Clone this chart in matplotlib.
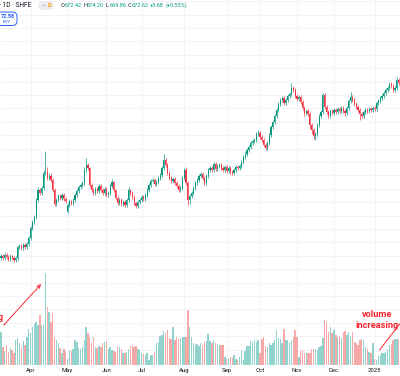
import matplotlib
matplotlib.use("Agg")
import matplotlib.pyplot as plt
from matplotlib.patches import FancyBboxPatch, FancyArrowPatch

plt.rcParams['font.family'] = ['Roboto', 'DejaVu Sans']

# daily bars, mid-March 2024 .. mid-January 2025 (SHFE, 1D)
opens = [
    538.5, 539.8, 538.4, 540.6, 539.1, 537.6, 539.8, 538.4, 536.9, 538.4, 546.6, 547.3,
    545.8, 548.1, 546.6, 548.8, 553.3, 560.7, 565.2, 569.0, 581.6, 589.1, 586.9, 590.6,
    601.8, 602.5, 598.1, 599.6, 596.6, 589.1, 578.7, 581.6, 584.6, 583.1, 585.4, 582.4,
    572.7, 577.9, 580.9, 579.4, 581.6, 585.4, 588.4, 591.3, 592.8, 594.3, 604.0, 607.8,
    605.5, 592.8, 589.1, 586.9, 589.9, 588.4, 592.1, 589.1, 586.9, 589.9, 585.4, 586.9,
    592.1, 595.1, 589.1, 583.1, 579.4, 581.6, 578.7, 580.2, 577.9, 581.6, 589.1, 586.9,
    583.9, 579.4, 577.2, 580.2, 581.6, 583.9, 582.4, 585.4, 589.1, 592.8, 595.8, 596.6,
    593.6, 595.1, 598.1, 600.3, 605.5, 611.5, 607.8, 601.8, 598.1, 595.8, 597.3, 594.3,
    592.1, 589.1, 590.6, 598.1, 604.0, 594.3, 581.6, 584.6, 586.9, 590.6, 594.3, 596.6,
    599.6, 601.0, 598.1, 594.3, 599.6, 604.0, 605.5, 604.0, 608.5, 604.8, 607.0, 607.8,
    605.5, 604.0, 606.3, 603.3, 605.5, 602.5, 601.8, 604.0, 606.3, 605.5, 607.0, 610.0,
    613.7, 616.0, 619.0, 621.2, 624.2, 625.7, 626.4, 630.9, 631.6, 628.7, 626.4, 622.7,
    620.4, 624.2, 630.1, 636.1, 639.9, 644.3, 648.8, 653.3, 656.3, 657.8, 654.0, 656.3,
    659.3, 660.8, 665.2, 663.7, 659.3, 657.0, 658.5, 654.8, 650.3, 646.6, 648.1, 645.8,
    637.6, 633.9, 629.4, 630.9, 637.6, 644.3, 647.3, 660.0, 651.0, 647.3, 644.3, 648.1,
    646.6, 648.8, 647.3, 649.6, 648.1, 650.3, 648.1, 646.6, 650.3, 655.5, 658.5, 656.3,
    653.3, 651.0, 648.8, 645.8, 644.3, 647.3, 648.8, 648.1, 649.6, 648.8, 650.3, 649.6,
    654.0, 655.5, 657.8, 659.3, 661.5, 663.7, 665.2, 668.2, 666.7, 663.7, 665.2, 671.2,
]
highs = [
    541.0, 541.2, 541.8, 541.9, 540.4, 541.0, 540.9, 539.5, 539.6, 548.0, 549.0, 548.5,
    549.6, 549.2, 550.1, 555.0, 562.3, 567.0, 570.8, 583.5, 591.0, 590.8, 592.4, 604.0,
    618.2, 606.0, 602.0, 601.5, 598.0, 590.5, 583.4, 586.2, 586.0, 587.0, 586.8, 583.8,
    579.5, 582.5, 582.0, 583.0, 587.0, 590.0, 593.0, 594.5, 596.0, 606.0, 613.0, 609.5,
    606.5, 594.0, 590.5, 591.5, 591.3, 593.8, 593.5, 590.5, 591.2, 591.0, 588.5, 593.5,
    597.0, 596.0, 590.2, 584.5, 583.0, 583.0, 581.5, 581.6, 583.0, 591.0, 590.2, 588.0,
    585.0, 580.5, 581.5, 583.0, 585.2, 585.0, 586.8, 590.5, 594.4, 597.2, 598.0, 598.0,
    596.6, 599.6, 601.6, 607.0, 616.0, 613.0, 609.0, 603.0, 599.5, 598.8, 598.6, 595.6,
    593.5, 592.0, 599.5, 605.5, 606.0, 595.5, 586.0, 588.2, 592.0, 595.8, 598.0, 601.0,
    602.5, 602.4, 599.2, 601.0, 605.4, 607.0, 606.8, 610.0, 609.7, 608.5, 609.2, 609.0,
    606.8, 607.7, 607.5, 606.8, 606.8, 603.8, 605.5, 607.6, 607.5, 608.4, 611.4, 615.0,
    617.4, 620.4, 622.6, 625.6, 627.0, 628.0, 632.4, 634.0, 632.8, 630.0, 627.6, 623.9,
    625.6, 631.5, 637.5, 641.2, 645.7, 650.2, 654.7, 657.7, 659.3, 659.0, 657.8, 660.6,
    662.4, 669.0, 666.6, 665.0, 660.6, 660.0, 659.8, 656.0, 652.0, 649.5, 649.6, 647.2,
    639.0, 635.2, 632.3, 639.0, 645.6, 648.8, 661.5, 661.5, 652.4, 648.6, 649.6, 649.8,
    650.2, 650.0, 651.0, 651.0, 651.7, 651.6, 649.4, 651.8, 657.0, 662.2, 659.8, 657.6,
    654.6, 652.3, 650.2, 647.2, 648.8, 650.2, 650.0, 651.0, 650.8, 651.8, 651.5, 655.4,
    657.0, 659.2, 660.7, 663.0, 665.1, 666.8, 669.6, 669.5, 668.0, 666.6, 673.4, 672.6,
]
lows = [
    537.2, 536.9, 537.0, 537.7, 535.9, 536.3, 536.8, 535.4, 535.6, 537.0, 545.2, 544.3,
    544.5, 545.2, 545.0, 547.4, 552.0, 559.3, 563.8, 567.6, 580.0, 585.4, 585.5, 589.2,
    600.0, 596.5, 596.6, 595.0, 587.6, 577.2, 577.3, 580.2, 581.7, 581.7, 580.9, 579.5,
    571.9, 576.5, 578.0, 578.0, 580.2, 584.0, 587.0, 589.8, 591.4, 592.8, 602.6, 603.8,
    591.3, 587.6, 585.4, 585.5, 586.9, 586.9, 587.7, 585.4, 585.5, 584.0, 584.0, 585.5,
    590.7, 587.6, 581.6, 577.9, 578.0, 577.2, 577.2, 576.5, 576.4, 580.2, 585.5, 582.4,
    578.0, 575.8, 575.8, 578.8, 580.2, 581.0, 581.0, 584.0, 587.7, 591.4, 594.4, 592.2,
    592.2, 593.8, 596.7, 599.0, 604.0, 606.4, 600.4, 596.6, 594.4, 594.4, 592.9, 590.7,
    587.7, 587.7, 589.2, 596.7, 593.0, 577.9, 578.5, 583.2, 585.5, 589.2, 593.0, 595.2,
    598.2, 596.7, 592.9, 592.9, 598.2, 602.6, 602.6, 602.6, 603.4, 603.4, 605.6, 604.1,
    602.6, 602.6, 601.9, 601.9, 601.1, 600.4, 600.4, 602.6, 604.1, 604.1, 605.6, 608.6,
    612.3, 614.6, 617.6, 619.8, 622.8, 624.3, 625.0, 629.5, 627.3, 625.0, 621.3, 619.0,
    619.0, 622.8, 628.7, 634.7, 638.5, 642.9, 647.4, 651.9, 654.9, 652.6, 652.6, 654.9,
    657.9, 659.4, 662.3, 657.9, 655.6, 655.6, 653.4, 648.9, 644.1, 645.2, 644.4, 634.5,
    631.0, 627.2, 626.4, 629.5, 636.2, 642.9, 645.9, 649.6, 645.9, 642.9, 642.9, 645.2,
    645.2, 645.9, 645.9, 646.7, 646.7, 646.7, 644.5, 645.2, 648.9, 654.1, 654.9, 651.9,
    649.6, 647.4, 641.3, 642.9, 642.9, 645.9, 646.7, 646.7, 647.4, 647.4, 648.2, 648.2,
    652.6, 654.1, 656.4, 657.9, 660.1, 662.3, 663.8, 665.3, 662.3, 662.3, 663.8, 667.6,
]
closes = [
    539.8, 538.4, 540.6, 539.1, 537.6, 539.8, 538.4, 536.9, 538.4, 546.6, 547.3, 545.8,
    548.1, 546.6, 548.8, 553.3, 560.7, 565.2, 569.0, 581.6, 589.1, 586.9, 590.6, 601.8,
    602.5, 598.1, 599.6, 596.6, 589.1, 578.7, 581.6, 584.6, 583.1, 585.4, 582.4, 580.9,
    577.9, 580.9, 579.4, 581.6, 585.4, 588.4, 591.3, 592.8, 594.3, 604.0, 607.8, 605.5,
    592.8, 589.1, 586.9, 589.9, 588.4, 592.1, 589.1, 586.9, 589.9, 585.4, 586.9, 592.1,
    595.1, 589.1, 583.1, 579.4, 581.6, 578.7, 580.2, 577.9, 581.6, 589.1, 586.9, 583.9,
    579.4, 577.2, 580.2, 581.6, 583.9, 582.4, 585.4, 589.1, 592.8, 595.8, 596.6, 593.6,
    595.1, 598.1, 600.3, 605.5, 611.5, 607.8, 601.8, 598.1, 595.8, 597.3, 594.3, 592.1,
    589.1, 590.6, 598.1, 604.0, 594.3, 581.6, 584.6, 586.9, 590.6, 594.3, 596.6, 599.6,
    601.0, 598.1, 594.3, 599.6, 604.0, 605.5, 604.0, 608.5, 604.8, 607.0, 607.8, 605.5,
    604.0, 606.3, 603.3, 605.5, 602.5, 601.8, 604.0, 606.3, 605.5, 607.0, 610.0, 613.7,
    616.0, 619.0, 621.2, 624.2, 625.7, 626.4, 630.9, 631.6, 628.7, 626.4, 622.7, 620.4,
    624.2, 630.1, 636.1, 639.9, 644.3, 648.8, 653.3, 656.3, 657.8, 654.0, 656.3, 659.3,
    660.8, 665.2, 663.7, 659.3, 657.0, 658.5, 654.8, 650.3, 646.6, 648.1, 645.8, 637.6,
    633.9, 629.4, 630.9, 637.6, 644.3, 647.3, 660.0, 651.0, 647.3, 644.3, 648.1, 646.6,
    648.8, 647.3, 649.6, 648.1, 650.3, 648.1, 646.6, 650.3, 655.5, 658.5, 656.3, 653.3,
    651.0, 648.8, 645.8, 644.3, 647.3, 648.8, 648.1, 649.6, 648.8, 650.3, 649.6, 654.0,
    655.5, 657.8, 659.3, 661.5, 663.7, 665.2, 668.2, 666.7, 663.7, 665.2, 671.2, 669.0,
]
volume_k = [
    33, 18, 14, 20, 13, 17, 15, 12, 25, 27, 22, 18,
    24, 20, 28, 36, 32, 38, 41, 43, 40, 50, 40, 40,
    92, 58, 53, 43, 52, 27, 25, 22, 17, 12, 16, 14,
    6, 15, 14, 16, 25, 23, 17, 16, 18, 25, 38, 32,
    28, 22, 28, 18, 17, 19, 18, 22, 23, 24, 16, 18,
    15, 14, 13, 19, 18, 16, 12, 12, 13, 16, 19, 20,
    18, 19, 16, 15, 12, 11, 10, 12, 5, 10, 10, 13,
    22, 23, 29, 30, 34, 32, 35, 27, 26, 38, 25, 28,
    26, 27, 28, 28, 28, 55, 38, 28, 22, 20, 21, 19,
    22, 20, 23, 24, 31, 24, 22, 25, 22, 21, 20, 20,
    20, 8, 6, 7, 8, 7, 10, 6, 5, 8, 15, 5,
    14, 19, 19, 24, 23, 25, 23, 25, 12, 26, 28, 19,
    18, 22, 20, 22, 25, 35, 27, 26, 22, 36, 25, 25,
    22, 25, 28, 35, 28, 8, 14, 15, 12, 12, 12, 12,
    16, 16, 16, 15, 18, 19, 27, 45, 43, 33, 38, 32,
    35, 30, 28, 29, 27, 33, 34, 30, 33, 29, 33, 23,
    22, 20, 25, 26, 25, 18, 16, 13, 12, 22, 6, 5,
    9, 10, 12, 12, 13, 16, 20, 21, 25, 26, 26, 26,
]
month_pos = [16, 36, 57, 76, 99, 122, 140, 160, 180, 202]
month_labels = ["Apr", "May", "Jun", "Jul", "Aug", "Sep", "Oct", "Nov", "Dec", "2025"]

UP, DOWN = "#089981", "#f23645"
VOL_UP, VOL_DOWN = "#92d2cc", "#f7a9a7"
GRID = "#f0f3fa"
W, H = 400, 376


def px(x, y):
    return (x / W, 1 - y / H)


fig = plt.figure(figsize=(W / 100, H / 100), dpi=100)
fig.patch.set_facecolor("white")

# price pane
ax = fig.add_axes([0, 11 / H, 1, 365 / H])
ax.set_xlim(-0.54, 215.7)
ax.set_ylim(458.5, 730.9)
for lvl in range(460, 731, 10):
    ax.axhline(lvl, color=GRID, lw=0.6, zorder=0)
for m in month_pos:
    ax.axvline(m, color=GRID, lw=0.6, zorder=0)

idx = list(range(len(closes)))
up = [c >= o for o, c in zip(opens, closes)]
cols = [UP if u else DOWN for u in up]
ax.vlines(idx, lows, highs, colors=cols, lw=0.5, zorder=2)
bottoms = [min(o, c) for o, c in zip(opens, closes)]
heights = [max(abs(c - o), 0.4) for o, c in zip(opens, closes)]
ax.bar(idx, heights, bottom=bottoms, width=0.62, color=cols, linewidth=0, zorder=3)

ax.set_xticks(month_pos)
ax.set_xticklabels(month_labels, fontsize=4.3, color="#131722")
ax.tick_params(axis="x", length=0, pad=2.5)
ax.set_yticks([])
for s in ax.spines.values():
    s.set_visible(False)

# volume overlay
vax = fig.add_axes([0, 11 / H, 1, 365 / H])
vax.patch.set_alpha(0)
vax.set_xlim(-0.54, 215.7)
vax.set_ylim(0, 365)
vax.bar(idx, volume_k, width=0.75, color=[VOL_UP if u else VOL_DOWN for u in up], linewidth=0)
vax.axis("off")

# header legend
fig.text(*px(-1, 5.5), "- 1D · SHFE", fontsize=4.8, color="#131722", va="center", ha="left")
fig.patches.append(FancyBboxPatch(px(38.5, 10), 15 / W, 9 / H, boxstyle="round,pad=0,rounding_size=0.011",
                                  transform=fig.transFigure, facecolor="#eaecf0", edgecolor="none"))
fig.text(*px(41.5, 5.5), "—", fontsize=3.5, color="#787b86", va="center", ha="left")
fig.text(*px(47.5, 5.5), "D", fontsize=4.2, color="#ff9800", va="center", ha="left", weight="bold")
ohlc_items = [("O", "672.42", 61), ("H", "674.20", 83), ("L", "669.86", 105.5), ("C", "672.62", 127.5)]
for key, val, x in ohlc_items:
    fig.text(*px(x, 5.5), key, fontsize=4.0, color="#131722", va="center", ha="left")
    fig.text(*px(x + 4.0, 5.5), val, fontsize=4.0, color=UP, va="center", ha="left")
fig.text(*px(149.5, 5.5), "+3.68", fontsize=4.0, color=UP, va="center", ha="left")
fig.text(*px(165.5, 5.5), "(+0.55%)", fontsize=4.0, color=UP, va="center", ha="left")

fig.patches.append(FancyBboxPatch(px(-4, 25.5), 21 / W, 13.5 / H, boxstyle="round,pad=0,rounding_size=0.012",
                                  transform=fig.transFigure, facecolor="white", edgecolor="#2962ff", lw=0.7))
fig.text(*px(7.5, 16), "72.58", fontsize=4.0, color="#2962ff", va="center", ha="center", weight="bold")
fig.text(*px(7, 22), "BUY", fontsize=3.2, color="#2962ff", va="center", ha="center")

# annotations
RED = "#f5222d"
fig.text(*px(377, 320), "volume\nincreasing", fontsize=6.6, color=RED, weight="bold",
         ha="center", va="center", linespacing=1.15)
fig.text(*px(-18, 312), "volume\nincreasing", fontsize=6.6, color=RED, weight="bold",
         ha="center", va="center", linespacing=1.15)
fig.add_artist(FancyArrowPatch(px(2, 327), px(43, 282), transform=fig.transFigure,
                               arrowstyle="->", mutation_scale=6, color=RED, lw=0.8, linestyle=(0, (1.5, 1))))
fig.add_artist(FancyArrowPatch(px(378, 352), px(412, 308), transform=fig.transFigure,
                               arrowstyle="->", mutation_scale=6, color=RED, lw=0.8, linestyle=(0, (1.5, 1))))

fig.savefig("out.png", dpi=100)
